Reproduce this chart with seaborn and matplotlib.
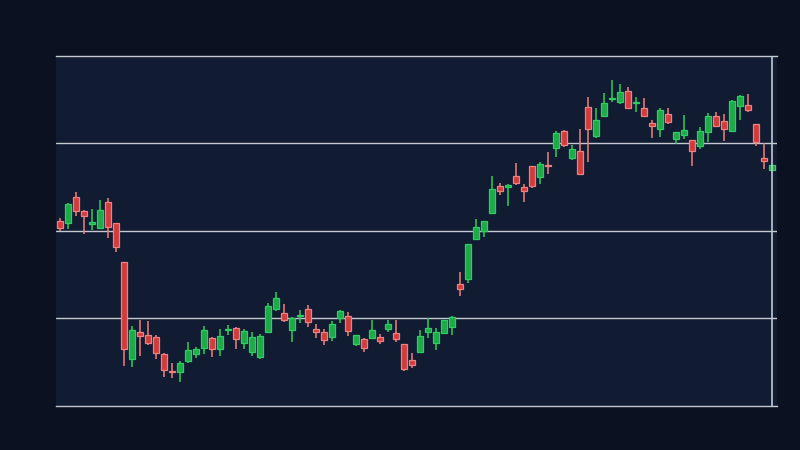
"""
Candlestick chart on a dark navy theme (no axis labels).
"""
import matplotlib
matplotlib.use('Agg')
import matplotlib.pyplot as plt
import seaborn as sns
import pandas as pd
import numpy as np

# OHLC values, one per session
opens = [101.14, 100.95, 103.85, 102.29, 100.83, 100.38, 103.28, 100.88, 96.42, 85.41,
         88.46, 88.11, 87.89, 85.94, 83.92, 83.92, 85.18, 85.98, 86.66, 87.74,
         86.55, 88.65, 88.88, 87.23, 86.21, 85.63, 88.49, 91.09, 90.59, 88.72,
         90.26, 91.09, 88.77, 88.42, 87.92, 90.02, 90.25, 87.12, 87.62, 87.74,
         87.85, 88.83, 88.31, 87.05, 85.26, 86.21, 88.49, 87.23, 88.38, 89.06,
         93.91, 94.55, 99.12, 100.03, 102.02, 105.11, 104.99, 106.25, 104.99, 107.39,
         106.21, 107.51, 109.52, 111.43, 108.38, 109.11, 114.14, 110.89, 113.18, 115.09,
         114.78, 115.97, 114.59, 114.02, 112.31, 111.62, 113.34, 110.55, 111.01, 110.37,
         109.68, 111.35, 113.11, 112.54, 111.46, 114.25, 114.37, 112.19, 108.31, 107.01]
highs = [101.45, 103.20, 104.46, 102.40, 102.51, 103.54, 103.77, 100.88, 96.42, 89.14,
         89.83, 89.71, 88.11, 86.06, 84.91, 85.14, 87.31, 86.74, 89.14, 87.89,
         88.80, 89.26, 88.99, 88.77, 88.46, 88.19, 91.74, 93.03, 91.66, 90.14,
         90.97, 91.54, 89.34, 88.77, 89.68, 90.94, 90.71, 88.08, 87.74, 89.79,
         88.19, 89.79, 89.79, 87.05, 86.02, 88.69, 90.02, 88.88, 89.86, 90.29,
         95.31, 98.48, 101.37, 101.11, 106.29, 105.49, 105.37, 107.77, 105.37, 107.39,
         107.89, 109.03, 111.43, 111.54, 109.83, 111.66, 115.31, 114.06, 115.77, 117.26,
         116.80, 116.42, 115.31, 115.20, 112.65, 114.02, 114.06, 111.28, 113.22, 110.37,
         111.89, 113.45, 113.57, 113.34, 114.94, 115.51, 115.66, 112.19, 110.02, 107.54]
lows = [100.00, 100.26, 101.75, 99.69, 100.15, 100.38, 99.23, 97.63, 84.57, 84.49,
        85.71, 86.97, 85.41, 83.35, 83.20, 82.78, 84.95, 85.49, 85.98, 85.63,
        85.75, 88.11, 86.55, 86.55, 85.75, 85.41, 88.38, 90.86, 89.60, 87.31,
        89.52, 89.06, 87.81, 87.01, 87.46, 89.52, 88.03, 86.89, 86.21, 87.74,
        87.12, 88.49, 87.35, 84.03, 84.38, 86.09, 87.81, 86.43, 88.38, 88.11,
        92.61, 94.09, 99.12, 99.31, 102.02, 104.15, 102.89, 105.29, 103.35, 104.95,
        105.41, 106.55, 108.49, 109.63, 108.15, 106.46, 107.92, 110.66, 113.18, 114.71,
        114.55, 113.98, 113.63, 113.06, 110.66, 110.78, 112.26, 109.91, 110.55, 107.46,
        109.34, 110.14, 112.03, 110.32, 111.46, 112.72, 113.57, 109.75, 107.12, 107.01]
closes = [100.38, 103.09, 102.32, 101.75, 100.91, 102.40, 100.49, 98.21, 86.55, 88.69,
          88.03, 87.23, 86.09, 84.15, 83.85, 84.91, 86.37, 86.48, 88.65, 86.55,
          87.97, 88.69, 87.69, 88.54, 87.85, 87.97, 91.39, 92.31, 89.86, 90.02,
          90.32, 89.63, 88.42, 87.58, 89.34, 90.82, 88.54, 88.08, 86.59, 88.65,
          87.39, 89.34, 87.62, 84.19, 84.72, 88.00, 88.88, 88.42, 89.83, 90.14,
          93.34, 98.48, 100.42, 101.11, 104.77, 104.61, 105.22, 105.52, 104.61, 105.18,
          107.66, 107.43, 111.20, 109.86, 109.37, 106.46, 111.62, 112.65, 114.59, 115.14,
          115.85, 114.09, 114.65, 113.18, 111.97, 113.79, 112.49, 111.28, 111.51, 109.18,
          111.39, 113.11, 112.03, 111.69, 114.82, 115.39, 113.79, 110.14, 108.03, 107.54]
grid_levels = [90, 100, 110]

FIG_BG = "#0b1120"
AX_BG = "#111c33"
LINE = "#c4c8d0"
UP_FILL, UP_EDGE = "#1faa4a", "#2ccf5f"
DN_FILL, DN_EDGE = "#d03c3c", "#f08080"

sns.set_theme(style="dark", rc={
    "axes.facecolor": AX_BG,
    "figure.facecolor": FIG_BG,
})

df = pd.DataFrame({"open": opens, "high": highs, "low": lows, "close": closes})
df["x"] = np.arange(len(df))
df["up"] = df["close"] >= df["open"]
df["bottom"] = df[["open", "close"]].min(axis=1)
df["height"] = (df["close"] - df["open"]).abs().clip(lower=0.15)

fig = plt.figure(figsize=(8, 4.5), dpi=100)
ax = fig.add_axes([0.07, 0.0978, 0.90125, 0.7778])

for lvl in grid_levels:
    ax.axhline(lvl, color=LINE, lw=1, zorder=1)

for up, fill, edge in [(True, UP_FILL, UP_EDGE), (False, DN_FILL, DN_EDGE)]:
    sub = df[df["up"] == up]
    ax.vlines(sub["x"], sub["low"], sub["high"], color=edge, lw=1.1, zorder=2)
    ax.bar(sub["x"], sub["height"], bottom=sub["bottom"], width=0.72,
           color=fill, edgecolor=edge, linewidth=0.9, zorder=3)

ax.axvline(df["x"].iloc[-1], color=LINE, lw=1.2, zorder=4)

ax.set_xlim(-0.5, 89.625)
ax.set_ylim(80, 120)
ax.set_xticks([])
ax.set_yticks([])
for side in ["left", "right"]:
    ax.spines[side].set_visible(False)
for side in ["top", "bottom"]:
    ax.spines[side].set_color(LINE)
    ax.spines[side].set_linewidth(1)

fig.savefig("out.png", dpi=100, facecolor=FIG_BG)
